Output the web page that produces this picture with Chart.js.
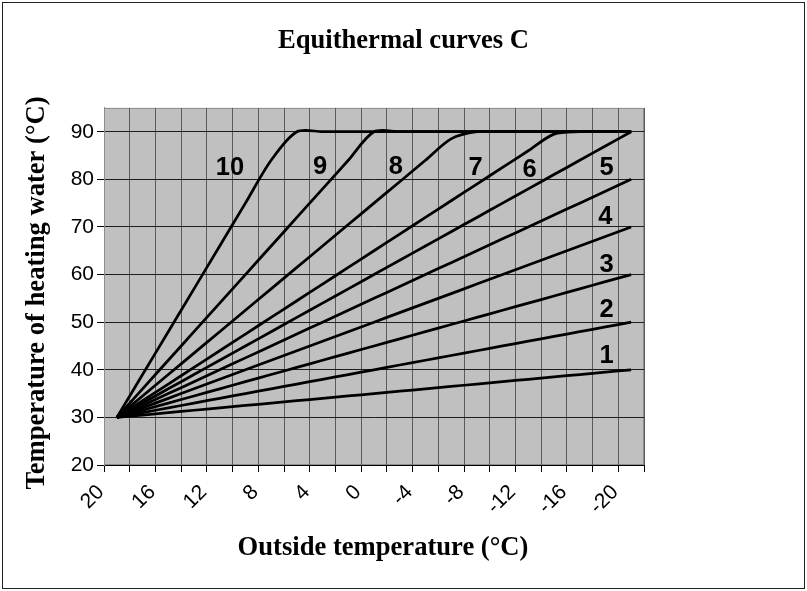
<!DOCTYPE html>
<html>
<head>
<meta charset="utf-8">
<script src="https://cdn.jsdelivr.net/npm/chart.js@4.4.1/dist/chart.umd.min.js"></script>
<style>
  html, body { margin: 0; padding: 0; background: #fff; }
  #wrap { position: relative; width: 807px; height: 591px; }
  #frame { position: absolute; left: 2px; top: 2px; width: 801px; height: 585px; border: 1px solid #222; pointer-events: none; }
</style>
</head>
<body>
<div id="wrap">
  <canvas id="curves" width="807" height="591"></canvas>
  <div id="frame"></div>
</div>
<script>
// Outside temperature categories (°C)
const outsideTemps = [20, 18, 16, 14, 12, 10, 8, 6, 4, 2, 0, -2, -4, -6, -8, -10, -12, -14, -16, -18, -20];

// Heating water temperature for each curve (°C)
const curve1 = [30, 30.5, 31, 31.5, 32, 32.5, 33, 33.5, 34, 34.5, 35, 35.5, 36, 36.5, 37, 37.5, 38, 38.5, 39, 39.5, 40];
const curve2 = [30, 31, 32, 33, 34, 35, 36, 37, 38, 39, 40, 41, 42, 43, 44, 45, 46, 47, 48, 49, 50];
const curve3 = [30, 31.5, 33, 34.5, 36, 37.5, 39, 40.5, 42, 43.5, 45, 46.5, 48, 49.5, 51, 52.5, 54, 55.5, 57, 58.5, 60];
const curve4 = [30, 32, 34, 36, 38, 40, 42, 44, 46, 48, 50, 52, 54, 56, 58, 60, 62, 64, 66, 68, 70];
const curve5 = [30, 32.5, 35, 37.5, 40, 42.5, 45, 47.5, 50, 52.5, 55, 57.5, 60, 62.5, 65, 67.5, 70, 72.5, 75, 77.5, 80];
const curve6 = [30, 33, 36, 39, 42, 45, 48, 51, 54, 57, 60, 63, 66, 69, 72, 75, 78, 81, 84, 87, 90];
const curve7 = [30, 33.5, 37, 40.5, 44, 47.5, 51, 54.5, 58, 61.5, 65, 68.5, 72, 75.5, 79, 82.5, 86, 89.5, 90, 90, 90];
const curve8 = [30, 34.5, 39, 43.5, 48, 52.5, 57, 61.5, 66, 70.5, 75, 79.5, 84, 88.5, 90, 90, 90, 90, 90, 90, 90];
const curve9 = [30, 36, 42, 48, 54, 60, 66, 72, 78, 84, 90, 90, 90, 90, 90, 90, 90, 90, 90, 90, 90];
const curve10 = [30, 39, 48, 57, 66, 75, 84, 90, 90, 90, 90, 90, 90, 90, 90, 90, 90, 90, 90, 90, 90];

// Y axis ticks
const yTicks = [20, 30, 40, 50, 60, 70, 80, 90];

// Curve number labels: text, outside temperature, water temperature
const labelNames = ['10', '9', '8', '7', '6', '5', '4', '3', '2', '1'];
const labelTemps = [11.2, 4.2, -1.7, -7.9, -12.1, -18.1, -18.0, -18.1, -18.1, -18.1];
const labelValues = [82.4, 82.6, 82.6, 82.3, 82.0, 82.3, 72.1, 62.0, 52.5, 42.8];

const allCurves = [curve1, curve2, curve3, curve4, curve5, curve6, curve7, curve8, curve9, curve10];

const serifBold = 'bold 26.6px "Liberation Serif", "Times New Roman", serif';

// Gray plot area with a thin frame
const plotBackground = {
    id: 'plotBackground',
    beforeDraw(chart) {
        const { ctx, chartArea: a } = chart;
        ctx.save();
        ctx.fillStyle = '#c0c0c0';
        ctx.fillRect(a.left, a.top, a.width, a.height);
        ctx.strokeStyle = '#8c8c8c';
        ctx.lineWidth = 1;
        ctx.strokeRect(a.left + 0.5, a.top + 0.5, a.width - 1, a.height - 1);
        ctx.restore();
    }
};

// Numbers next to each curve
const curveNumbers = {
    id: 'curveNumbers',
    afterDatasetsDraw(chart) {
        const { ctx, scales } = chart;
        ctx.save();
        ctx.fillStyle = '#000';
        ctx.font = 'bold 25.5px "Liberation Sans", Arial, sans-serif';
        ctx.textAlign = 'center';
        ctx.textBaseline = 'middle';
        labelNames.forEach((name, i) => {
            const idx = (outsideTemps[0] - labelTemps[i]) / 2;
            const x = scales.x.getPixelForValue(idx);
            const y = scales.y.getPixelForValue(labelValues[i]);
            ctx.fillText(name, x, y);
        });
        ctx.restore();
    }
};

// Axis titles, placed like the original sheet
const axisTitles = {
    id: 'axisTitles',
    afterDraw(chart) {
        const { ctx } = chart;
        ctx.save();
        ctx.fillStyle = '#000';
        ctx.font = serifBold;
        ctx.textAlign = 'center';
        ctx.textBaseline = 'middle';
        ctx.fillText('Outside temperature (°C)', 383, 548);
        ctx.translate(37, 293);
        ctx.rotate(-Math.PI / 2);
        ctx.fillText('Temperature of heating water (°C)', 0, 0);
        ctx.restore();
    }
};

const ctx = document.getElementById('curves').getContext('2d');
const chart = new Chart(ctx, {
    type: 'line',
    data: {
        labels: outsideTemps.map(t => String(t)),
        datasets: allCurves.map((values, i) => ({
            label: 'Curve ' + (i + 1),
            data: values,
            borderColor: '#000',
            borderWidth: 2.75,
            pointRadius: 0,
            tension: 0.3,
            fill: false
        }))
    },
    options: {
        responsive: false,
        animation: false,
        layout: {
            padding: { left: 0, right: 0, top: 0, bottom: 14 }
        },
        plugins: {
            legend: { display: false },
            tooltip: { enabled: false },
            title: {
                display: true,
                text: 'Equithermal curves C',
                color: '#000',
                font: { family: '"Liberation Serif", "Times New Roman", serif', size: 26.6, weight: 'bold' },
                padding: { top: 25, bottom: 51 }
            }
        },
        scales: {
            x: {
                type: 'category',
                offset: true,
                afterFit: scale => { scale.height = 112; },
                grid: {
                    offset: true,
                    color: '#5a5a5a',
                    lineWidth: 1,
                    tickColor: '#000',
                    tickLength: 7
                },
                border: { color: '#000', width: 1 },
                ticks: {
                    autoSkip: false,
                    minRotation: 45,
                    maxRotation: 45,
                    padding: 8,
                    labelOffset: -16,
                    color: '#000',
                    font: { family: '"Liberation Sans", Arial, sans-serif', size: 21 },
                    callback: (val, idx) => (idx % 2 === 0 ? outsideTemps[idx] : '')
                }
            },
            y: {
                type: 'linear',
                min: 20,
                max: 95,
                afterFit: scale => { scale.width = 104; },
                afterBuildTicks: scale => { scale.ticks = yTicks.map(v => ({ value: v })); },
                grid: {
                    color: '#1e1e1e',
                    lineWidth: 1,
                    tickColor: '#000',
                    tickLength: 7
                },
                border: { color: '#8c8c8c', width: 1 },
                ticks: {
                    padding: 3,
                    color: '#000',
                    font: { family: '"Liberation Sans", Arial, sans-serif', size: 21 }
                }
            },
            // empty right margin so the plot stops where the original one does
            side: {
                type: 'linear',
                position: 'right',
                afterFit: scale => { scale.width = 163; },
                grid: { display: false, drawTicks: false },
                border: { display: false },
                ticks: { display: false }
            }
        }
    },
    plugins: [plotBackground, curveNumbers, axisTitles]
});
</script>
</body>
</html>
